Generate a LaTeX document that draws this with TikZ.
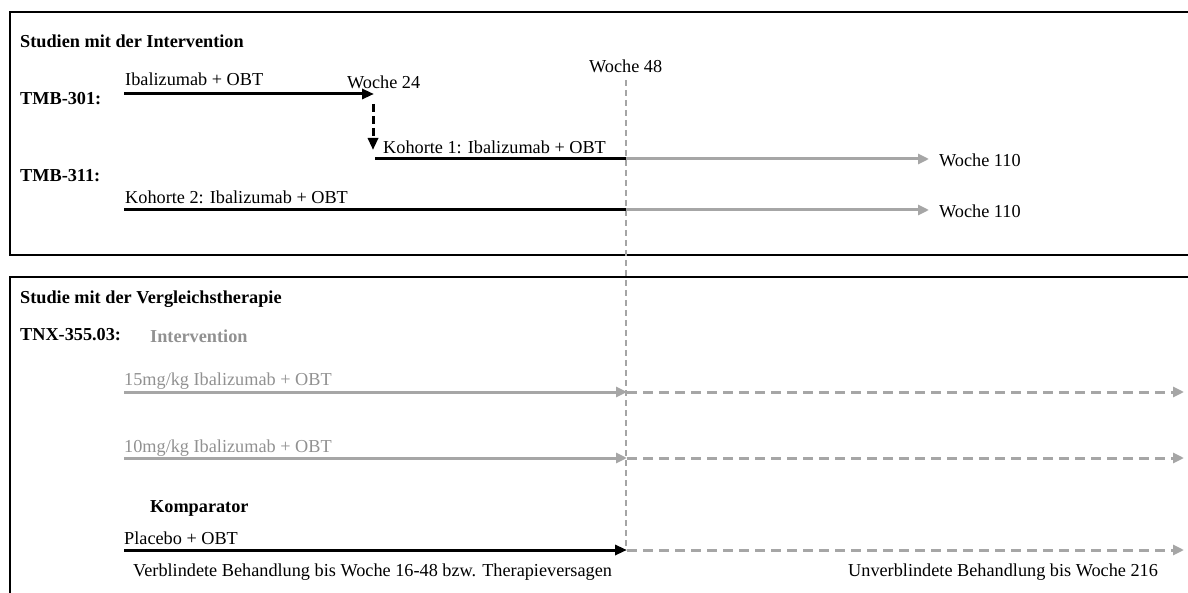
\documentclass[tikz,border=0pt]{standalone}
\usepackage{fontspec}
\setmainfont{Liberation Serif}
\usetikzlibrary{arrows.meta}
\definecolor{lgray}{RGB}{166,166,166}
\definecolor{tgray}{RGB}{145,145,145}
\definecolor{vgray}{RGB}{165,165,165}
\begin{document}
\begin{tikzpicture}[x=1pt,y=-1pt,
  txt/.style={anchor=base west,inner sep=0pt,font=\fontsize{18.25}{22}\selectfont},
  btxt/.style={txt,font=\fontsize{18.25}{22}\selectfont\bfseries},
  gtxt/.style={txt,text=tgray},
  frame/.style={draw=black,line width=2pt},
  blk/.style={draw=black,line width=3pt},
  gry/.style={draw=lgray,line width=3pt},
  gdash/.style={draw=lgray,line width=3pt,dash pattern=on 10pt off 6pt},
  bdash/.style={draw=black,line width=3pt,dash pattern=on 8pt off 4pt},
  vdash/.style={draw=vgray,line width=1.5pt,dash pattern=on 6pt off 4pt},
  tip/.style={-{Triangle[length=12pt,width=10pt]}},
  tipg/.style={-{Triangle[length=11pt,width=10pt,fill=lgray,color=lgray]}}
]
\useasboundingbox (0,0) rectangle (1188,593);
\clip (0,0) rectangle (1188,593);
% frames
\draw[frame] (10,12) rectangle (1200,255);
\draw[frame] (10,277) rectangle (1200,620);
% texts top
\node[btxt] (t1) at (20,48) {Studien mit der Intervention};
\node[btxt] (tmb301) at (20,105) {TMB-301:};
\node[txt] (ibal) at (125,86) {Ibalizumab + OBT};
\node[txt] (w24) at (347,89) {Woche 24};
\node[txt] (koh1) at (383,154) {Kohorte 1: Ibalizumab + OBT};
\node[txt] (w48) at (589,73) {Woche 48};
\node[txt] (w110a) at (939,167) {Woche 110};
\node[btxt] (tmb311) at (20,182) {TMB-311:};
\node[txt] (koh2) at (125,204) {Kohorte 2: Ibalizumab + OBT};
\node[txt] (w110b) at (939,218) {Woche 110};
% texts bottom
\node[btxt] (t2) at (20,304) {Studie mit der Vergleichstherapie};
\node[btxt] (tnx) at (20,341) {TNX-355.03:};
\node[btxt,text=tgray] (interv) at (150,343) {Intervention};
\node[gtxt] (mg15) at (124,385) {15mg/kg Ibalizumab + OBT};
\node[gtxt] (mg10) at (124,452) {10mg/kg Ibalizumab + OBT};
\node[btxt] (komp) at (150,512) {Komparator};
\node[txt] (plac) at (124,544) {Placebo + OBT};
\node[txt] (verbl) at (133,576) {Verblindete Behandlung bis Woche 16-48 bzw. Therapieversagen};
\node[txt] (unverbl) at (848,576) {Unverblindete Behandlung bis Woche 216};
% coordinates
\coordinate (a0) at (124,94);
\coordinate (a1) at (374,94);
\coordinate (d0) at (373,104);
\coordinate (d1) at (373,150);
\coordinate (k1s) at (375,159);
\coordinate (k1m) at (626,159);
\coordinate (k1e) at (929,159);
\coordinate (k2s) at (124,210);
\coordinate (k2m) at (626,210);
\coordinate (k2e) at (929,210);
\coordinate (m15s) at (124,392);
\coordinate (m15m) at (627,392);
\coordinate (m15e) at (1184,392);
\coordinate (m10s) at (124,458);
\coordinate (m10m) at (627,458);
\coordinate (m10e) at (1184,458);
\coordinate (ps) at (124,550);
\coordinate (pm) at (627,550);
\coordinate (pe) at (1184,550);
\coordinate (v0) at (626,80);
\coordinate (v1) at (626,550);
% vertical week 48 line
\draw[vdash] (v0) -- (v1);
% top arrows
\draw[blk,tip] (a0) -- (a1);
\draw[bdash,tip] (d0) -- (d1);
\draw[blk] (k1s) -- (k1m);
\draw[gry,tipg] (k1m) -- (k1e);
\draw[blk] (k2s) -- (k2m);
\draw[gry,tipg] (k2m) -- (k2e);
% bottom arrows
\draw[gry,tipg] (m15s) -- (m15m);
\draw[gdash,tipg] (m15m) -- (m15e);
\draw[gry,tipg] (m10s) -- (m10m);
\draw[gdash,tipg] (m10m) -- (m10e);
\draw[blk,tip] (ps) -- (pm);
\draw[gdash,tipg] (pm) -- (pe);
\end{tikzpicture}
\end{document}
